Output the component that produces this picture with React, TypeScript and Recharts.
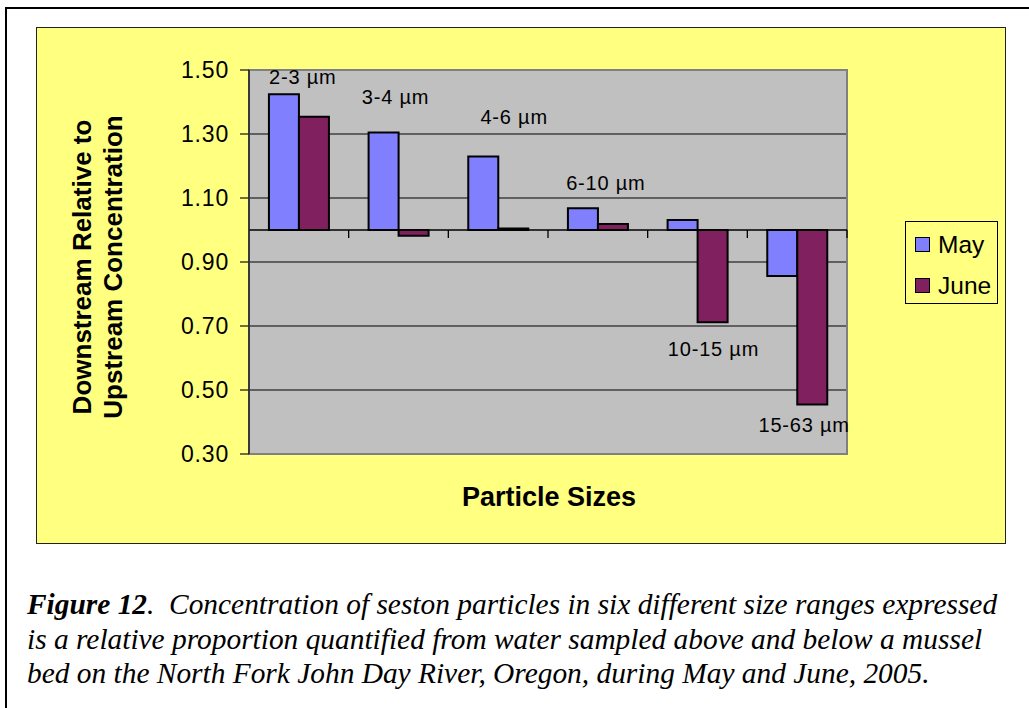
import React from 'react';
import {
  BarChart,
  Bar,
  XAxis,
  YAxis,
  CartesianGrid,
  ReferenceLine,
  ReferenceArea,
  ReferenceDot,
  Legend,
} from 'recharts';

// Particle size classes (category axis)
const categories = ['2-3 µm', '3-4 µm', '4-6 µm', '6-10 µm', '10-15 µm', '15-63 µm'];
// Downstream / upstream concentration ratios
const may = [1.424, 1.305, 1.23, 1.068, 1.031, 0.856];
const june = [1.354, 0.982, 1.005, 1.019, 0.712, 0.455];
// Series names in legend order
const seriesNames = ['May', 'June'];
// Value-axis ticks
const yTicks = [0.3, 0.5, 0.7, 0.9, 1.1, 1.3, 1.5];
const innerGrid = [1.3, 1.1, 0.9, 0.7, 0.5];
// Level (in ratio units) at which each size-class name is written
const labelLevels = [1.478, 1.416, 1.353, 1.147, 0.628, 0.391];
const labelNudge = [4, -3, 16, 8, 16, 7];

const BASE = 1.0;

// Bars rise or fall from the 1.00 reference ratio
const table = categories.map((c, i) => ({
  cat: c,
  may: [BASE, may[i]],
  june: [BASE, june[i]],
}));

const MAY_COLOR = '#8080FF';
const JUNE_COLOR = '#80205F';
const YELLOW = '#FFFF80';
const SANS = '"Liberation Sans", Arial, sans-serif';
const SERIF = '"Liberation Serif", "Times New Roman", serif';

// Category axis drawn through 1.00 with tick marks hanging below it
const BaseAxis = (props: any) => {
  const { x1, x2, y1 } = props;
  const n = categories.length;
  const marks = [];
  for (let i = 1; i <= n; i++) {
    const x = x1 + ((x2 - x1) * i) / n;
    marks.push(<line key={i} x1={x} x2={x} y1={y1} y2={y1 + 8} stroke="#000" strokeWidth={1.3} />);
  }
  return (
    <g>
      <line x1={x1} x2={x2} y1={y1} y2={y1} stroke="#000" strokeWidth={1.3} />
      {marks}
    </g>
  );
};

const LegendBox = (props: any) => {
  const items = [...(props.payload || [])].sort(
    (a: any, b: any) => seriesNames.indexOf(a.value) - seriesNames.indexOf(b.value)
  );
  return (
    <div
      style={{
        position: 'relative',
        width: 93,
        height: 83,
        boxSizing: 'border-box',
        border: '1px solid #000',
        background: YELLOW,
        fontFamily: SANS,
      }}
    >
      {items.map((it: any, i: number) => (
        <div
          key={it.value}
          style={{ position: 'absolute', left: 9, top: 14 + i * 41, height: 17, display: 'flex', alignItems: 'center' }}
        >
          <div
            style={{
              width: 15,
              height: 15,
              boxSizing: 'border-box',
              border: '1.5px solid #000',
              background: it.color,
            }}
          />
          <span style={{ marginLeft: 8, fontSize: 24.5, color: '#000', lineHeight: '17px' }}>{it.value}</span>
        </div>
      ))}
    </div>
  );
};

export default function App() {
  return (
    <div style={{ position: 'absolute', left: 0, top: 0, width: 1029, height: 708, overflow: 'hidden', background: '#fff' }}>
      {/* figure frame */}
      <div style={{ position: 'absolute', left: 5, top: 7, width: 1060, height: 740, border: '2px solid #000' }} />
      {/* chart area */}
      <div
        style={{
          position: 'absolute',
          left: 36,
          top: 27,
          width: 970,
          height: 517,
          boxSizing: 'border-box',
          border: '1.5px solid #222',
          background: YELLOW,
        }}
      />
      <div style={{ position: 'absolute', left: 0, top: 0 }}>
        <BarChart
          width={1029}
          height={708}
          data={table}
          margin={{ top: 70, right: 182, bottom: 254, left: 189 }}
          barCategoryGap="20%"
          barGap={0}
        >
          <CartesianGrid
            vertical={false}
            horizontalValues={innerGrid}
            stroke="#000"
            strokeWidth={1}
            fill="#C0C0C0"
            fillOpacity={1}
          />
          <ReferenceArea y1={0.3} y2={1.5} fill="none" stroke="#808080" strokeWidth={2} ifOverflow="visible" />
          <XAxis dataKey="cat" hide />
          <YAxis
            width={60}
            domain={[0.3, 1.5]}
            ticks={yTicks}
            interval={0}
            allowDataOverflow
            tickFormatter={(v: number) => v.toFixed(2)}
            tick={{ fontSize: 23, fill: '#000', fontFamily: SANS, letterSpacing: 0.8 }}
            tickSize={9}
            tickMargin={11}
            axisLine={{ stroke: '#222', strokeWidth: 1.5 }}
            tickLine={{ stroke: '#222', strokeWidth: 1.3 }}
          />
          <Bar dataKey="may" name="May" fill={MAY_COLOR} stroke="#000" strokeWidth={2} isAnimationActive={false} />
          <Bar dataKey="june" name="June" fill={JUNE_COLOR} stroke="#000" strokeWidth={2} isAnimationActive={false} />
          <ReferenceLine y={BASE} shape={BaseAxis} />
          {categories.map((c, i) => (
            <ReferenceDot
              key={c}
              x={c}
              y={labelLevels[i]}
              r={0}
              fill="none"
              stroke="none"
              ifOverflow="visible"
              label={{
                value: c,
                position: 'center',
                dx: labelNudge[i],
                fontSize: 20,
                fill: '#000',
                fontFamily: SANS,
                letterSpacing: 0.8,
              }}
            />
          ))}
          <Legend
            layout="vertical"
            align="center"
            verticalAlign="middle"
            content={LegendBox}
            wrapperStyle={{ position: 'absolute', left: 905, top: 221, width: 93, height: 83 }}
          />
        </BarChart>
      </div>
      {/* value-axis title */}
      {['Downstream Relative to', 'Upstream Concentration'].map((t, i) => (
        <div
          key={t}
          style={{
            position: 'absolute',
            left: i === 0 ? 82 : 113,
            top: 267,
            transform: 'translate(-50%, -50%) rotate(-90deg)',
            whiteSpace: 'nowrap',
            fontFamily: SANS,
            fontWeight: 'bold',
            fontSize: 26,
            lineHeight: 1,
            color: '#000',
          }}
        >
          {t}
        </div>
      ))}
      {/* category-axis title */}
      <div
        style={{
          position: 'absolute',
          left: 549,
          top: 497,
          transform: 'translate(-50%, -50%)',
          whiteSpace: 'nowrap',
          fontFamily: SANS,
          fontWeight: 'bold',
          fontSize: 27,
          lineHeight: 1,
          color: '#000',
        }}
      >
        Particle Sizes
      </div>
      {/* figure caption */}
      <div
        style={{
          position: 'absolute',
          left: 27,
          top: 587,
          fontFamily: SERIF,
          fontStyle: 'italic',
          fontSize: 29.4,
          lineHeight: '34.5px',
          color: '#000',
          whiteSpace: 'nowrap',
        }}
      >
        <div>
          <b>Figure 12</b>.&nbsp; Concentration of seston particles in six different size ranges expressed
        </div>
        <div>is a relative proportion quantified from water sampled above and below a mussel</div>
        <div>bed on the North Fork John Day River, Oregon, during May and June, 2005.</div>
      </div>
    </div>
  );
}
